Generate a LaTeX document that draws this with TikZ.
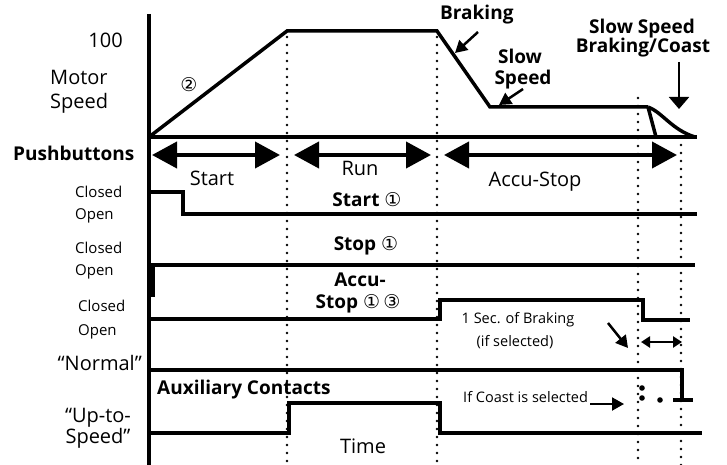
\documentclass[tikz,border=0pt]{standalone}
\usepackage{fontspec}
\setmainfont{Open Sans}
\newfontfamily\symfont{DejaVu Sans}
\usetikzlibrary{arrows.meta}
\newcommand{\cone}{{\symfont\mdseries ①}}
\newcommand{\ctwo}{{\symfont\mdseries ②}}
\newcommand{\cthree}{{\symfont\mdseries ③}}
\tikzset{
  sig/.style={line width=3.5pt, line join=miter},
  axisline/.style={line width=4pt},
  dotline/.style={line width=2.6pt, dash pattern=on 0pt off 8pt, line cap=round},
  bigarrow/.style={line width=4pt, {Triangle[length=25pt,width=26pt]}-{Triangle[length=25pt,width=26pt]}},
  smallarrow/.style={line width=2.5pt, -{Triangle[length=12pt,width=13pt]}},
  tinyarrow/.style={line width=2.5pt, {Triangle[length=9pt,width=11pt]}-{Triangle[length=9pt,width=11pt]}},
  lbl/.style={inner sep=0pt, font=\fontsize{20}{21}\selectfont},
  blbl/.style={inner sep=0pt, font=\fontsize{19}{19}\selectfont\bfseries, align=center},
  slbl/.style={inner sep=0pt, font=\fontsize{15}{16}\selectfont},
  tlbl/.style={inner sep=0pt, font=\fontsize{14.5}{15}\selectfont},
}
\begin{document}
\begin{tikzpicture}[x=1pt,y=-1pt]
\useasboundingbox (0,0) rectangle (727,465);
% dotted guides
\draw[dotline] (287,37) -- (287,465);
\draw[dotline] (437,37) -- (437,465);
\draw[dotline] (638,98) -- (638,465);
\draw[dotline] (681,145) -- (681,465);
% axis and baseline
\draw[axisline] (149,14) -- (149,465);
\draw[sig] (149,137) -- (697,137);
% motor speed curve
\draw[sig] (149,137) -- (287,31) -- (437,31) -- (490,107) -- (648,107);
\draw[sig] (648,107) -- (656,137);
\draw[sig] (648,107) .. controls (662,112) and (672,130) .. (695,137);
% pushbutton arrows
\coordinate (sa1) at (152,155); \coordinate (sa2) at (280,155);
\coordinate (ra1) at (294,155); \coordinate (ra2) at (431,155);
\coordinate (aa1) at (444,155); \coordinate (aa2) at (677,155);
\draw[bigarrow] (sa1) -- (sa2);
\draw[bigarrow] (ra1) -- (ra2);
\draw[bigarrow] (aa1) -- (aa2);
% Start signal
\draw[sig] (149,192) -- (183,192) -- (183,214) -- (697,214);
% Stop signal
\draw[sig] (149,265) -- (695,265);
\fill (149,265) rectangle (155,297);
% Accu-Stop signal
\draw[sig] (149,319) -- (440,319) -- (440,300) -- (643,300) -- (643,320) -- (690,320);
% Normal
\draw[sig] (149,370) -- (682,370) -- (682,400);
\draw[sig] (673,400) -- (693,400);
\fill (642,388) circle (2.8pt);
\fill (642,398) circle (2.8pt);
\fill (660,400) circle (2.8pt);
% Up-to-speed
\draw[sig] (149,433) -- (289,433) -- (289,403) -- (440,403) -- (440,433) -- (702,433);
% left labels
\node[lbl, anchor=east] (l100) at (123,40) {100};
\node[lbl, anchor=west] (lmotor) at (50,77) {Motor};
\node[lbl, anchor=west] (lspeed) at (50,103) {Speed};
\node[inner sep=0pt, font=\fontsize{19}{19}\selectfont] (c2) at (189,85) {\ctwo};
\node[inner sep=0pt, font=\fontsize{19}{19}\selectfont\bfseries, anchor=west] (lpb) at (13,153) {Pushbuttons};
\node[slbl, anchor=west] (lc1) at (75,192) {Closed};
\node[slbl, anchor=west] (lo1) at (75,216) {Open};
\node[slbl, anchor=west] (lc2) at (75,248) {Closed};
\node[slbl, anchor=west] (lo2) at (75,272) {Open};
\node[slbl, anchor=west] (lc3) at (78,306) {Closed};
\node[slbl, anchor=west] (lo3) at (78,332) {Open};
\node[lbl, anchor=east] (lnorm) at (142,363) {“Normal”};
\node[lbl, anchor=center, text height=14pt, text depth=0pt] (lup1) at (98,415) {“Up-to-};
\node[lbl, anchor=center, text height=14pt, text depth=4pt] (lup2) at (98,438) {Speed”};
% row labels
\node[lbl] (tstart) at (212,178) {Start};
\node[lbl] (trun) at (360,168) {Run};
\node[lbl] (taccu) at (535,182) {Accu-Stop};
\node[blbl] (bstart) at (367,200) {Start \cone};
\node[blbl] (bstop) at (366,246) {Stop \cone};
\node[blbl, text height=13pt, text depth=0pt] (baccu1) at (360,280) {Accu-};
\node[blbl, text height=14pt, text depth=4pt] (baccu2) at (358,303) {Stop \cone\,\cthree};
\node[tlbl] (tsec) at (518,320) {1 Sec. of Braking};
\node[tlbl] (tif) at (515,342) {(if selected)};
\node[blbl, anchor=west] (taux) at (157,390) {Auxiliary Contacts};
\node[tlbl, anchor=west] (tcoast) at (463,397) {If Coast is selected};
\node[lbl] (ttime) at (363,446) {Time};
% top labels
\node[blbl, anchor=west] (tbrk) at (440,15) {Braking};
\node[blbl, text height=13pt, text depth=0pt] (tslow1) at (520,57) {Slow};
\node[blbl, text height=13pt, text depth=4pt] (tslow2) at (523,80) {Speed};
\node[blbl, text height=13pt, text depth=0pt] (tssb1) at (642,27) {Slow Speed};
\node[blbl, text height=13pt, text depth=4pt] (tssb2) at (643,48) {Braking/Coast};
% small arrows
\coordinate (b1) at (478,32); \coordinate (b2) at (455,53);
\draw[smallarrow] (b1) -- (b2);
\coordinate (s1) at (523,89); \coordinate (s2) at (499,105);
\draw[smallarrow] (s1) -- (s2);
\coordinate (d1) at (679,62); \coordinate (d2) at (679,109);
\draw[smallarrow, line width=2pt, -{Triangle[length=12pt,width=20pt]}] (d1) -- (d2);
\coordinate (g1) at (608,323); \coordinate (g2) at (628,348);
\draw[smallarrow] (g1) -- (g2);
\coordinate (h1) at (641,342); \coordinate (h2) at (682,342);
\draw[tinyarrow] (h1) -- (h2);
\coordinate (k1) at (590,404); \coordinate (k2) at (624,404);
\draw[smallarrow, line width=2pt] (k1) -- (k2);
\end{tikzpicture}
\end{document}
